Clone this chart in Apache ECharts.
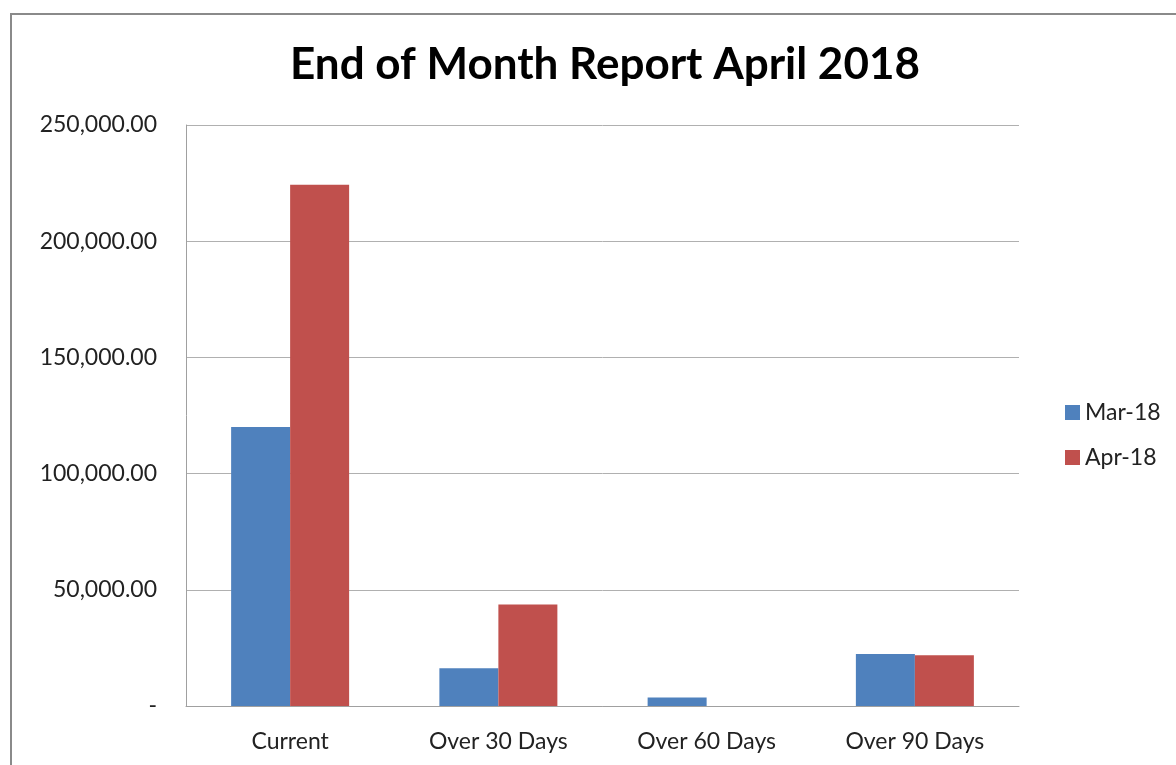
<!DOCTYPE html>
<html>
<head>
<meta charset="utf-8">
<script src="https://cdn.jsdelivr.net/npm/echarts@6/dist/echarts.min.js"></script>
<style>
  html,body{margin:0;padding:0;background:#fff;}
  #frame{position:absolute;left:10px;top:13px;width:1200px;height:800px;border-top:2px solid #8a8a8a;border-left:2px solid #8a8a8a;}
  #chart{position:absolute;left:0;top:0;width:1176px;height:765px;}
</style>
</head>
<body>
<div id="frame"></div>
<div id="chart"></div>
<script>
  // data
  var categories = ['Current', 'Over 30 Days', 'Over 60 Days', 'Over 90 Days'];
  var mar18 = [120100, 16200, 3700, 22400];
  var apr18 = [224300, 43700, 0, 21800];
  var seriesNames = ['Mar-18', 'Apr-18'];

  var font = 'Lato, "Open Sans", sans-serif';
  var myChart = echarts.init(document.getElementById('chart'), null, {renderer: 'canvas'});
  var option = {
    animation: false,
    title: {
      text: 'End of Month Report April 2018',
      left: 600, top: 38, textAlign: 'center',
      textStyle: {fontFamily: font, fontSize: 44, fontWeight: 'bold', color: '#000'}
    },
    legend: {
      orient: 'vertical',
      left: 1060, top: 396,
      itemWidth: 15, itemHeight: 15, itemGap: 22,
      icon: 'rect',
      textStyle: {fontFamily: font, fontSize: 23, color: '#222'},
      data: seriesNames
    },
    grid: {left: 186, right: 157, top: 125, bottom: 59},
    xAxis: {
      type: 'category',
      data: categories,
      axisTick: {show: false},
      axisLine: {lineStyle: {color: '#a0a0a0', width: 1}},
      axisLabel: {fontFamily: font, fontSize: 23, color: '#222', margin: 24}
    },
    yAxis: {
      type: 'value',
      min: 0, max: 250000, interval: 50000,
      axisLine: {show: true, lineStyle: {color: '#a0a0a0', width: 1}},
      axisTick: {show: false},
      splitLine: {lineStyle: {color: '#b0b0b0', width: 1}},
      axisLabel: {
        fontFamily: font, fontSize: 23, color: '#222', margin: 29,
        formatter: function(v){
          if (v === 0) return '-';
          return v.toLocaleString('en-US', {minimumFractionDigits: 2, maximumFractionDigits: 2});
        }
      }
    },
    series: [
      {name: seriesNames[0], type: 'bar', data: mar18, barWidth: 59, barGap: '0%', itemStyle: {color: '#4f81bd'}},
      {name: seriesNames[1], type: 'bar', data: apr18, barWidth: 59, barGap: '0%', itemStyle: {color: '#c0504d'}}
    ]
  };
  myChart.setOption(option);
</script>
</body>
</html>
